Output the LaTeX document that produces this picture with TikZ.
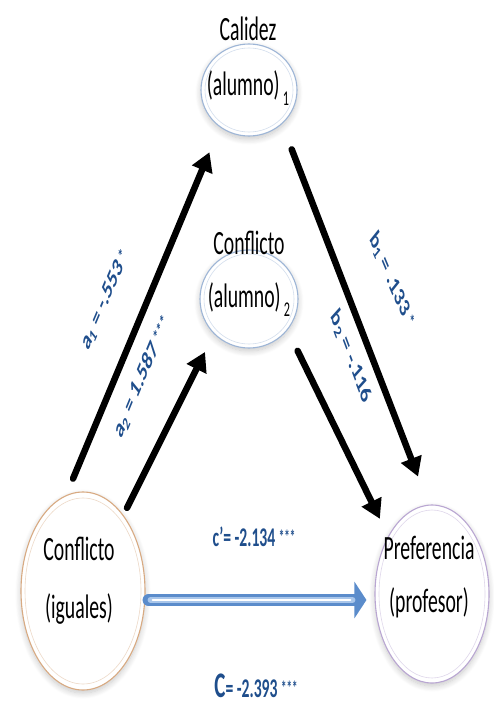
\documentclass[tikz,border=0pt]{standalone}
\usepackage{fontspec}
\setmainfont{Carlito}
\usetikzlibrary{arrows.meta,shapes.geometric,shadows.blur}

\definecolor{labelblue}{HTML}{1F4E8C}
\definecolor{ringblue}{HTML}{9DB5D6}
\definecolor{ringtan}{HTML}{D8AA82}
\definecolor{ringlilac}{HTML}{B9A6D2}
\definecolor{flowblue}{HTML}{5B8CCB}
\definecolor{flowlight}{HTML}{A9C6EA}

% narrow type, and narrow type turned along a path
\newcommand\narrowtext[1]{\scalebox{0.58}[1]{#1}}
\newcommand\slanttext[2]{\scalebox{0.58}[1]{\rotatebox{#1}{#2}}}
\newcommand\lowsub[1]{\raisebox{-0.28em}{\fontsize{21}{21}\selectfont #1}}
\newcommand\stars[1]{\raisebox{0.12em}{\scalebox{0.7}{#1}}}

\tikzset{
  construct/.style={ellipse, draw=#1, line width=1.1pt, fill=white, inner sep=0pt,
    blur shadow={shadow xshift=0pt, shadow yshift=-3pt, shadow blur steps=10,
      shadow opacity=22, shadow blur radius=6pt}},
  innerring/.style={line width=.6pt, draw=#1!45},
  caption/.style={align=center, font=\fontsize{34}{55}\selectfont, inner sep=0pt},
  coef/.style={text=labelblue, font=\bfseries\fontsize{27}{27}\selectfont, inner sep=0pt},
  effect/.style={line width=6.5pt, line cap=round, -{Triangle[length=19pt,width=21pt]}},
}

\begin{document}
\begin{tikzpicture}[x=1pt,y=-1pt]
\useasboundingbox (0,0) rectangle (493,706);

% constructs
\node[construct=ringblue, minimum width=96pt, minimum height=92pt] (cal) at (249,90) {};
\node[construct=ringblue, minimum width=98pt, minimum height=98pt] (alu) at (249,299) {};
\node[construct=ringtan, minimum width=124pt, minimum height=198pt] (ig) at (83,591) {};
\node[construct=ringlilac, minimum width=114pt, minimum height=178pt] (pref) at (432,594) {};

\draw[innerring=ringblue] (cal.center) ellipse [x radius=44, y radius=42];
\draw[innerring=ringblue] (alu.center) ellipse [x radius=45, y radius=45];
\draw[innerring=ringtan] (ig.center) ellipse [x radius=58, y radius=93];
\draw[innerring=ringlilac] (pref.center) ellipse [x radius=53, y radius=84];

% indirect paths
\draw[effect, shorten <=18pt, shorten >=27pt] (ig.100) -- (cal.232);
\draw[effect, shorten <=8pt, shorten >=20pt] (ig.62) -- (alu.225);
\draw[effect, shorten <=27pt, shorten >=30pt] (cal.314) -- (pref.92);
\draw[effect, shorten <=23pt, shorten >=19pt] (alu.321) -- (pref.127);

% direct path
\draw[flowblue, line width=12pt, line cap=round, shorten <=3pt, shorten >=8pt,
  -{Triangle[length=12pt,width=36pt]}] ([yshift=-9pt]ig.east) -- ([yshift=-6pt]pref.west);
\draw[flowlight, line width=6pt, line cap=round, shorten <=5pt, shorten >=22pt]
  ([yshift=-9pt]ig.east) -- ([yshift=-6pt]pref.west);
\draw[white, line width=2pt, line cap=round, shorten <=7pt, shorten >=24pt]
  ([yshift=-9pt]ig.east) -- ([yshift=-6pt]pref.west);

% captions
\node[caption] (cal-t) at (248,61) {\narrowtext{Calidez}\\\narrowtext{(alumno)\,\lowsub{1}}};
\node[caption, font=\fontsize{34}{53}\selectfont] (alu-t) at (249,274) {\narrowtext{Conflicto}\\\narrowtext{(alumno)\,\lowsub{2}}};
\node[caption, font=\fontsize{34}{58}\selectfont] (ig-t) at (79,581) {\narrowtext{Conflicto}\\\narrowtext{(iguales)}};
\node[caption, font=\fontsize{34}{53}\selectfont] (pref-t) at (429,577) {\narrowtext{Preferencia}\\\narrowtext{(profesor)}};

% coefficients
\node[coef] (a1) at (105,300) {\slanttext{54}{a\textsubscript{1} = -.553\,\stars{*}}};
\node[coef] (a2) at (142,377) {\slanttext{54.5}{a\textsubscript{2} = 1.587\,\stars{***}}};
\node[coef] (b1) at (392,280) {\slanttext{-54}{b\textsubscript{1} = .133\,\stars{*}}};
\node[coef] (b2) at (351,357) {\slanttext{-57}{b\textsubscript{2} = -.116}};
\node[coef] (cp) at (254,537)
  {\narrowtext{c’= -2.134 \stars{***}}};
\node[coef] (c) at (256,686)
  {\narrowtext{{\fontsize{36}{36}\selectfont C}= -2.393 \stars{***}}};
\end{tikzpicture}
\end{document}
